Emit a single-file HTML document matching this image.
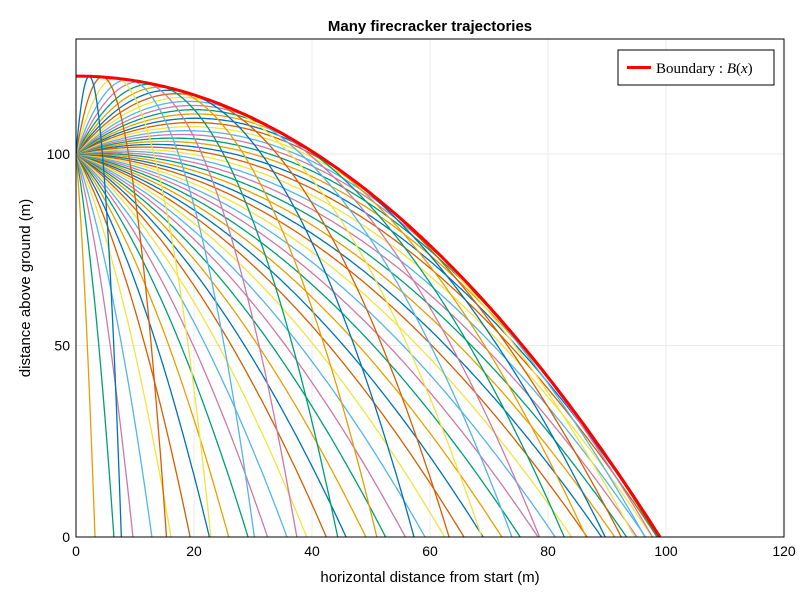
<!DOCTYPE html>
<html><head><meta charset="utf-8"><style>
html,body{margin:0;padding:0;background:#fff;overflow:hidden;width:800px;height:600px}
svg{display:block}
</style></head><body>
<svg id="s" width="800" height="600" xmlns="http://www.w3.org/2000/svg" font-family="Liberation Sans, sans-serif">
<rect width="800" height="600" fill="#fff"/>
<defs><clipPath id="c"><rect x="76" y="39" width="708" height="498"/></clipPath></defs>
<g id="grid" stroke="#ebebeb" stroke-width="1"></g>
<g id="lines" clip-path="url(#c)" fill="none" stroke-width="1.3"></g>
<rect x="76" y="39" width="708" height="498" fill="none" stroke="#000" stroke-width="1"/>
<g id="ticks" font-size="14" fill="#000"></g>
<text x="430" y="31" text-anchor="middle" font-weight="bold" font-size="15">Many firecracker trajectories</text>
<text x="430" y="582" text-anchor="middle" font-size="15">horizontal distance from start (m)</text>
<text transform="translate(30,288) rotate(-90)" text-anchor="middle" font-size="15">distance above ground (m)</text>
<rect x="618" y="50" width="156" height="35" fill="#fff" stroke="#000" stroke-width="1"/>
<line x1="627" y1="67.5" x2="651" y2="67.5" stroke="red" stroke-width="3"/>
<text x="656" y="73" font-family="Liberation Serif, serif" font-size="15">Boundary : <tspan font-style="italic">B</tspan>(<tspan font-style="italic">x</tspan>)</text>
</svg>
<script>
const X=x=>76+x*5.9, Y=y=>537-y*3.83;
const ns="http://www.w3.org/2000/svg";
const g=document.getElementById('grid'),L=document.getElementById('lines'),T=document.getElementById('ticks');
function el(p,t,a,txt){const e=document.createElementNS(ns,t);for(const k in a)e.setAttribute(k,a[k]);if(txt!==undefined)e.textContent=txt;p.appendChild(e);return e;}
for(let x=0;x<=120;x+=20){el(g,'line',{x1:X(x),x2:X(x),y1:39,y2:537});el(T,'text',{x:X(x),y:556,'text-anchor':'middle'},x);}
for(let y=0;y<=100;y+=50){el(g,'line',{x1:76,x2:784,y1:Y(y),y2:Y(y)});el(T,'text',{x:70,y:Y(y)+5,'text-anchor':'end'},y);}
const cols=["#0072B2","#E69F00","#009E73","#CC79A7","#56B4E9","#F0E442","#D55E00"];
const H=20.35,K=4*H;
const N=57;
for(let k=1;k<N;k++){
 const th=-Math.PI/2+k*Math.PI/N; const t=Math.tan(th),c2=1+t*t;
 let d="";
 for(let j=0;j<=400;j++){const x=102*j/400;const y=100+x*t-x*x*c2/K;d+=(j?"L":"M")+X(x).toFixed(1)+" "+Y(y).toFixed(1);if(y<-5)break;}
 el(L,'path',{d:d,stroke:cols[k%7]});
}
const R=Math.sqrt(K*(100+H));
let d="";for(let j=0;j<=200;j++){const x=R*j/200;const y=Math.max(0,100+H-x*x/K);d+=(j?"L":"M")+X(x).toFixed(1)+" "+Y(y).toFixed(1);}
el(L,'path',{d:d,stroke:"red","stroke-width":3});
</script>
</body></html>
